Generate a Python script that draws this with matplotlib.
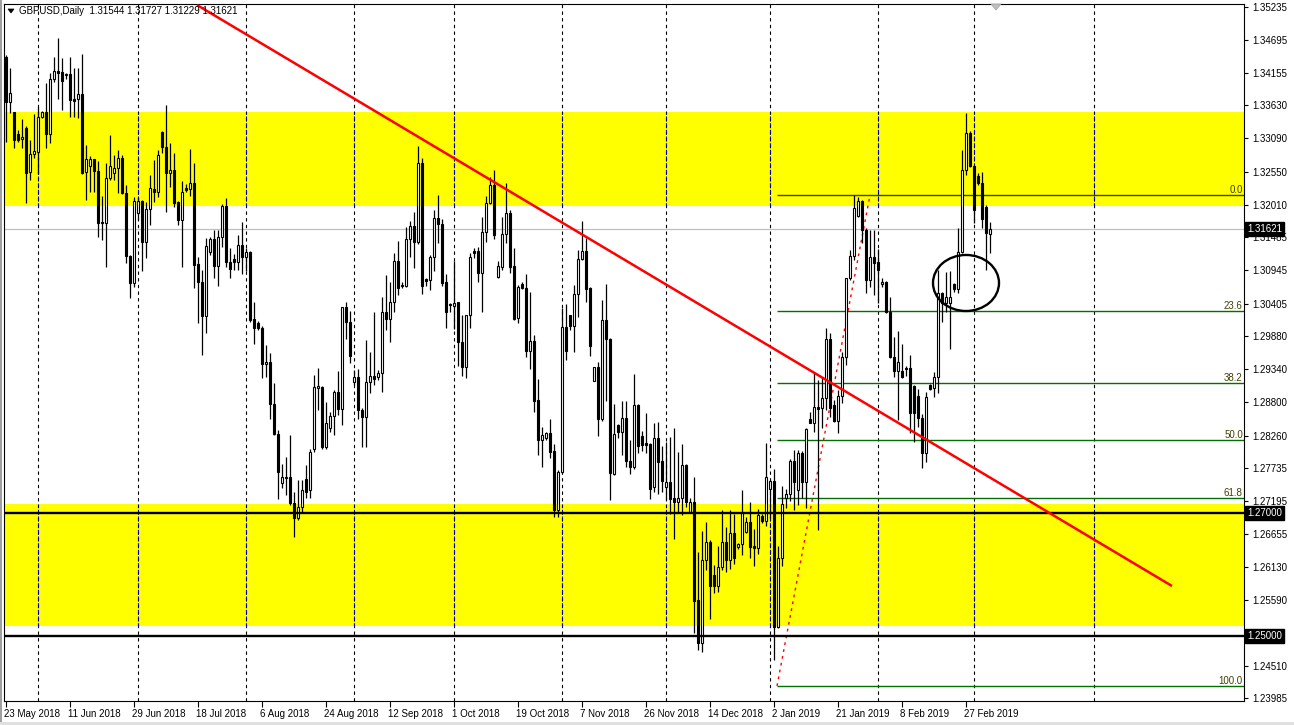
import datetime as dt
import numpy as np
import matplotlib
matplotlib.use("Agg")
import matplotlib.pyplot as plt
from matplotlib.patches import Ellipse, Polygon, Rectangle
import matplotlib.transforms as mtransforms

# ---------------- data ----------------
header_text = "GBPUSD,Daily  1.31544 1.31727 1.31229 1.31621"
first_date = dt.date(2018, 5, 23)

opens = [1.3442, 1.3368, 1.3352, 1.3316, 1.3308, 1.3326, 1.3254, 1.3284, 1.3287, 1.3344,
         1.3352, 1.3316, 1.3406, 1.3419, 1.3417, 1.3412, 1.3414, 1.3373, 1.3373, 1.3381,
         1.3254, 1.3264, 1.3275, 1.3256, 1.3173, 1.3171, 1.3245, 1.3253, 1.3261, 1.3277,
         1.3220, 1.3118, 1.3074, 1.3188, 1.3207, 1.3141, 1.3194, 1.3227, 1.3222, 1.3319,
         1.3295, 1.3253, 1.3258, 1.3206, 1.3176, 1.3228, 1.3227, 1.3236, 1.3105, 1.3076,
         1.3020, 1.3124, 1.3145, 1.3101, 1.3149, 1.3199, 1.3108, 1.3113, 1.3108, 1.3136,
         1.3116, 1.3124, 1.3015, 1.3009, 1.3001, 1.2942, 1.2945, 1.2877, 1.2828, 1.2749,
         1.2757, 1.2758, 1.2716, 1.2692, 1.2710, 1.2756, 1.2737, 1.2804, 1.2903, 1.2905,
         1.2807, 1.2838, 1.2858, 1.2897, 1.2869, 1.3035, 1.3011, 1.2913, 1.2921, 1.2867,
         1.2856, 1.2913, 1.2923, 1.2921, 1.2927, 1.3027, 1.3015, 1.3043, 1.3110, 1.3069,
         1.3069, 1.3145, 1.3167, 1.3141, 1.3269, 1.3080, 1.3079, 1.3116, 1.3180, 1.3170,
         1.3075, 1.3040, 1.3036, 1.3043, 1.2978, 1.2937, 1.3022, 1.3126, 1.3126, 1.3090,
         1.3157, 1.3204, 1.3233, 1.3084, 1.3100, 1.3154, 1.3188, 1.3101, 1.3017, 1.3072,
         1.3066, 1.2963, 1.2980, 1.2884, 1.2819, 1.2822, 1.2830, 1.2801, 1.2705, 1.2767,
         1.3002, 1.3022, 1.3004, 1.3056, 1.3113, 1.3126, 1.3066, 1.2915, 1.2937, 1.2853,
         1.3014, 1.2983, 1.2763, 1.2843, 1.2832, 1.2854, 1.2784, 1.2775, 1.2876, 1.2825,
         1.2814, 1.2812, 1.2742, 1.2822, 1.2784, 1.2742, 1.2750, 1.2724, 1.2718, 1.2724,
         1.2778, 1.2702, 1.2718, 1.2558, 1.2488, 1.2623, 1.2653, 1.2599, 1.2581, 1.2612,
         1.2653, 1.2623, 1.2667, 1.2645, 1.2649, 1.2669, 1.2685, 1.2646, 1.2643, 1.2695,
         1.2687, 1.2739, 1.2752, 1.2515, 1.2627, 1.2724, 1.2731, 1.2784, 1.2737, 1.2798,
         1.2750, 1.2853, 1.2846, 1.2872, 1.2871, 1.2887, 1.2983, 1.2876, 1.2849, 1.2890,
         1.2954, 1.3082, 1.3118, 1.3183, 1.3207, 1.3160, 1.3079, 1.3116, 1.3108, 1.3072,
         1.3076, 1.3027, 1.2954, 1.2931, 1.2931, 1.2936, 1.2936, 1.2906, 1.2890, 1.2854,
         1.2797, 1.2908, 1.2903, 1.2921, 1.3058, 1.3041, 1.3041, 1.3072, 1.3064, 1.3124,
         1.3258, 1.3318, 1.3264, 1.3248, 1.3236, 1.3197, 1.31544]

highs = [1.3445, 1.3423, 1.3352, 1.3323, 1.3340, 1.3329, 1.3306, 1.3349, 1.3360, 1.3354,
         1.3399, 1.3415, 1.3441, 1.3472, 1.3440, 1.3415, 1.3441, 1.3423, 1.3423, 1.3446,
         1.3298, 1.3280, 1.3276, 1.3272, 1.3215, 1.3269, 1.3314, 1.3282, 1.3290, 1.3282,
         1.3233, 1.3119, 1.3214, 1.3214, 1.3209, 1.3206, 1.3249, 1.3274, 1.3290, 1.3321,
         1.3363, 1.3301, 1.3285, 1.3207, 1.3240, 1.3235, 1.3292, 1.3269, 1.3116, 1.3095,
         1.3147, 1.3149, 1.3160, 1.3160, 1.3202, 1.3212, 1.3131, 1.3121, 1.3152, 1.3173,
         1.3131, 1.3126, 1.3043, 1.3012, 1.3004, 1.2973, 1.2960, 1.2911, 1.2835, 1.2780,
         1.2791, 1.2827, 1.2734, 1.2754, 1.2754, 1.2778, 1.2804, 1.2924, 1.2936, 1.2906,
         1.2880, 1.2864, 1.2900, 1.2931, 1.3035, 1.3043, 1.3028, 1.2932, 1.2934, 1.2871,
         1.2981, 1.2962, 1.3027, 1.2932, 1.3051, 1.3087, 1.3076, 1.3123, 1.3142, 1.3075,
         1.3165, 1.3175, 1.3189, 1.3297, 1.3277, 1.3082, 1.3119, 1.3193, 1.3217, 1.3178,
         1.3088, 1.3041, 1.3110, 1.3043, 1.3022, 1.3022, 1.3123, 1.3131, 1.3132, 1.3181,
         1.3215, 1.3246, 1.3258, 1.3110, 1.3181, 1.3236, 1.3193, 1.3131, 1.3071, 1.3075,
         1.3088, 1.3059, 1.2989, 1.2918, 1.2840, 1.2832, 1.2853, 1.2812, 1.2770, 1.3033,
         1.3040, 1.3022, 1.3071, 1.3128, 1.3175, 1.3147, 1.3067, 1.2938, 1.2946, 1.3046,
         1.3072, 1.2984, 1.2877, 1.2845, 1.2882, 1.2882, 1.2819, 1.2926, 1.2877, 1.2833,
         1.2863, 1.2814, 1.2846, 1.2848, 1.2809, 1.2815, 1.2823, 1.2838, 1.2799, 1.2812,
         1.2779, 1.2724, 1.2759, 1.2636, 1.2671, 1.2685, 1.2656, 1.2615, 1.2646, 1.2705,
         1.2677, 1.2705, 1.2698, 1.2651, 1.2737, 1.2693, 1.2718, 1.2674, 1.2707, 1.2698,
         1.2814, 1.2754, 1.2772, 1.2646, 1.2744, 1.2739, 1.2788, 1.2802, 1.2802, 1.2801,
         1.2838, 1.2864, 1.2927, 1.2916, 1.2921, 1.3001, 1.2993, 1.2884, 1.2900, 1.2962,
         1.3082, 1.3128, 1.3217, 1.3214, 1.3209, 1.3163, 1.3160, 1.3160, 1.3129, 1.3082,
         1.3077, 1.3051, 1.2986, 1.2996, 1.2975, 1.2939, 1.2957, 1.2908, 1.2901, 1.2861,
         1.2897, 1.2910, 1.2929, 1.3095, 1.3059, 1.3092, 1.3093, 1.3074, 1.3163, 1.3290,
         1.3350, 1.3321, 1.3265, 1.3253, 1.3254, 1.3201, 1.31727]

lows = [1.3304, 1.3350, 1.3293, 1.3303, 1.3293, 1.3204, 1.3241, 1.3277, 1.3251, 1.3342,
        1.3293, 1.3301, 1.3401, 1.3373, 1.3355, 1.3406, 1.3344, 1.3344, 1.3342, 1.3251,
        1.3209, 1.3222, 1.3222, 1.3149, 1.3144, 1.3100, 1.3241, 1.3241, 1.3220, 1.3219,
        1.3106, 1.3049, 1.3067, 1.3176, 1.3093, 1.3114, 1.3168, 1.3206, 1.3214, 1.3285,
        1.3189, 1.3230, 1.3197, 1.3168, 1.3100, 1.3222, 1.3215, 1.3066, 1.3009, 1.2957,
        1.2993, 1.3119, 1.3082, 1.3069, 1.3132, 1.3100, 1.3082, 1.3095, 1.3095, 1.3089,
        1.3093, 1.3010, 1.2975, 1.2997, 1.2919, 1.2921, 1.2853, 1.2827, 1.2723, 1.2741,
        1.2729, 1.2713, 1.2661, 1.2689, 1.2702, 1.2724, 1.2724, 1.2799, 1.2867, 1.2804,
        1.2804, 1.2832, 1.2827, 1.2859, 1.2843, 1.2983, 1.2944, 1.2908, 1.2853, 1.2807,
        1.2807, 1.2895, 1.2908, 1.2916, 1.2897, 1.2997, 1.2978, 1.3027, 1.3054, 1.3066,
        1.3067, 1.3116, 1.3098, 1.3137, 1.3056, 1.3069, 1.3063, 1.3093, 1.3139, 1.3069,
        1.3001, 1.3027, 1.2999, 1.2939, 1.2923, 1.2919, 1.3001, 1.3114, 1.3075, 1.3027,
        1.3141, 1.3202, 1.3145, 1.3082, 1.3095, 1.3139, 1.3090, 1.3014, 1.3009, 1.3064,
        1.2954, 1.2934, 1.2864, 1.2794, 1.2775, 1.2819, 1.2789, 1.2693, 1.2693, 1.2765,
        1.2949, 1.2997, 1.2962, 1.3019, 1.3111, 1.3043, 1.2955, 1.2914, 1.2825, 1.2849,
        1.2882, 1.2721, 1.2762, 1.2822, 1.2794, 1.2775, 1.2763, 1.2771, 1.2798, 1.2801,
        1.2798, 1.2723, 1.2734, 1.2731, 1.2734, 1.2721, 1.2698, 1.2658, 1.2702, 1.2697,
        1.2710, 1.2701, 1.2505, 1.2477, 1.2474, 1.2607, 1.2527, 1.2570, 1.2571, 1.2607,
        1.2604, 1.2609, 1.2617, 1.2641, 1.2632, 1.2667, 1.2627, 1.2614, 1.2633, 1.2684,
        1.2679, 1.2692, 1.2461, 1.2513, 1.2614, 1.2708, 1.2720, 1.2705, 1.2713, 1.2724,
        1.2708, 1.2846, 1.2832, 1.2672, 1.2838, 1.2867, 1.2856, 1.2848, 1.2830, 1.2879,
        1.2941, 1.3079, 1.3111, 1.3181, 1.3139, 1.3058, 1.3067, 1.3054, 1.3041, 1.3067,
        1.3025, 1.2952, 1.2921, 1.2851, 1.2919, 1.2923, 1.2830, 1.2815, 1.2840, 1.2773,
        1.2783, 1.2900, 1.2889, 1.2895, 1.3010, 1.3027, 1.2967, 1.3059, 1.3058, 1.3123,
        1.3250, 1.3262, 1.3171, 1.3233, 1.3163, 1.3095, 1.31229]

closes = [1.3369, 1.3383, 1.3306, 1.3306, 1.3311, 1.3253, 1.3284, 1.3288, 1.3344, 1.3352,
          1.3316, 1.3406, 1.3419, 1.3415, 1.3402, 1.3414, 1.3371, 1.3370, 1.3381, 1.3253,
          1.3275, 1.3275, 1.3256, 1.3171, 1.3171, 1.3245, 1.3264, 1.3261, 1.3277, 1.3220,
          1.3118, 1.3074, 1.3207, 1.3207, 1.3141, 1.3194, 1.3228, 1.3222, 1.3282, 1.3295,
          1.3253, 1.3258, 1.3204, 1.3176, 1.3222, 1.3226, 1.3236, 1.3103, 1.3076, 1.3020,
          1.3134, 1.3145, 1.3101, 1.3149, 1.3199, 1.3108, 1.3097, 1.3108, 1.3136, 1.3116,
          1.3124, 1.3014, 1.3001, 1.3001, 1.2942, 1.2945, 1.2877, 1.2828, 1.2767, 1.2758,
          1.2759, 1.2716, 1.2692, 1.2710, 1.2737, 1.2734, 1.2799, 1.2905, 1.2906, 1.2807,
          1.2846, 1.2858, 1.2897, 1.2869, 1.3035, 1.3011, 1.2955, 1.2921, 1.2867, 1.2856,
          1.2913, 1.2923, 1.2918, 1.2927, 1.3027, 1.3015, 1.3043, 1.3110, 1.3066, 1.3071,
          1.3145, 1.3167, 1.3141, 1.3269, 1.3069, 1.3077, 1.3116, 1.3180, 1.3170, 1.3074,
          1.3027, 1.3038, 1.3041, 1.2978, 1.2937, 1.3022, 1.3116, 1.3123, 1.3090, 1.3157,
          1.3204, 1.3233, 1.3152, 1.3101, 1.3154, 1.3188, 1.3100, 1.3015, 1.3067, 1.3066,
          1.2963, 1.2980, 1.2882, 1.2819, 1.2827, 1.2830, 1.2799, 1.2705, 1.2767, 1.3002,
          1.2963, 1.3004, 1.3056, 1.3113, 1.3126, 1.3064, 1.2971, 1.2937, 1.2853, 1.3014,
          1.2983, 1.2765, 1.2828, 1.2832, 1.2854, 1.2784, 1.2775, 1.2876, 1.2809, 1.2810,
          1.2810, 1.2739, 1.2822, 1.2783, 1.2752, 1.2750, 1.2723, 1.2718, 1.2724, 1.2778,
          1.2718, 1.2718, 1.2557, 1.2488, 1.2623, 1.2653, 1.2581, 1.2581, 1.2612, 1.2653,
          1.2623, 1.2667, 1.2627, 1.2649, 1.2700, 1.2685, 1.2645, 1.2643, 1.2697, 1.2687,
          1.2758, 1.2752, 1.2515, 1.2627, 1.2715, 1.2731, 1.2784, 1.2750, 1.2798, 1.2750,
          1.2837, 1.2846, 1.2872, 1.2869, 1.2887, 1.2983, 1.2871, 1.2849, 1.2890, 1.2954,
          1.3082, 1.3118, 1.3196, 1.3207, 1.3160, 1.3079, 1.3116, 1.3107, 1.3095, 1.3076,
          1.3027, 1.2954, 1.2931, 1.2945, 1.2921, 1.2934, 1.2863, 1.2863, 1.2854, 1.2797,
          1.2889, 1.2901, 1.2921, 1.3058, 1.3041, 1.3051, 1.3051, 1.3064, 1.3124, 1.3258,
          1.3318, 1.3264, 1.3193, 1.3236, 1.3178, 1.3155, 1.31621]

price_ticks = ["1.35235", "1.34695", "1.34155", "1.33630", "1.33090", "1.32550", "1.32010",
               "1.31485", "1.30945", "1.30405", "1.29880", "1.29340", "1.28800", "1.28260",
               "1.27735", "1.27195", "1.26655", "1.26130", "1.25590", "1.24510", "1.23985"]

key_levels = [1.27000, 1.25000]
last_price = 1.31621
zones = [(1.31992, 1.33520), (1.25163, 1.27146)]

trend_x = [47.75, 291.5]
trend_y = [1.35260, 1.25813]

fib_anchor_x = [192.75, 216.0]
fib_anchor_y = [1.24187, 1.32171]
fib_levels = [0.0, 23.6, 38.2, 50.0, 61.8, 100.0]

ellipse_center = (240.0, 1.30740)
ellipse_size = (16.5, 0.00911)

# ---------------- derived ----------------
O = np.array(opens); Hh = np.array(highs); Ll = np.array(lows); C = np.array(closes)
n = len(O)
x = np.arange(n)

dates = []
d = first_date
while len(dates) < n:
    if d.weekday() != 5:  # broker feed: Mon-Fri + Sunday bars
        dates.append(d)
    d += dt.timedelta(days=1)

label_idx = list(range(0, n, 16))
label_txt = [f"{dates[i].day} {dates[i].strftime('%b %Y')}" for i in label_idx]

month_idx = [i for i in range(1, n) if dates[i].month != dates[i - 1].month]
# future month separator (calendar days in the empty right area)
future_month = dt.date(2019, 4, 1)
month_idx.append(n - 1 + (future_month - dates[-1]).days)

# ---------------- figure ----------------
W, H = 1294, 725
fig = plt.figure(figsize=(W / 100, H / 100), dpi=100)
fig.patch.set_facecolor("white")
Lp, Rp, Tp, Bp = 4, 1244, 4, 701
ax = fig.add_axes([Lp / W, 1 - Bp / H, (Rp - Lp) / W, (Bp - Tp) / H])
ax.set_facecolor("white")
ax.set_xlim(-0.5, 309.5)
ax.set_ylim(1.239431, 1.352764)

FONT = "Liberation Sans"
FS = 7

# zones
for lo, hi in zones:
    ax.axhspan(lo, hi, color="#FFFF00", lw=0, zorder=0)

# month grid (black dashes, blue where they cross yellow)
for m in month_idx:
    ax.axvline(m, color="black", lw=0.8, ls=(0, (3, 3)), zorder=1)
    for lo, hi in zones:
        ax.plot([m, m], [lo, hi], color="#0000FF", lw=0.8, ls=(0, (3, 3)), zorder=1.1)

# current price line
ax.axhline(last_price, color="#C0C0C0", lw=0.9, zorder=1.2)

# fibonacci
fhi, flo = fib_anchor_y[1], fib_anchor_y[0]
for lv in fib_levels:
    p = fhi - (fhi - flo) * lv / 100.0
    col = "#404000" if lv == 0 else "#007000"
    ax.plot([fib_anchor_x[0], 309.5], [p, p], color=col, lw=1.0, zorder=1.5,
            solid_capstyle="butt")
    ax.text(309.2, p, f"{lv:.1f}", fontsize=FS, family=FONT, color="#404000",
            ha="right", va="bottom", zorder=6)
ax.plot(fib_anchor_x, fib_anchor_y, color="red", lw=1.0, ls=(0, (2, 3)), zorder=1.6)

# candles
up = C >= O
bb = np.minimum(O, C)
bh = np.abs(C - O)
ax.vlines(x, Ll, Hh, color="black", lw=0.9, zorder=2)
bw = 0.58
ax.bar(x[up], bh[up], bottom=bb[up], width=bw, facecolor="white", edgecolor="black",
       lw=0.8, zorder=3)
ax.bar(x[~up], bh[~up], bottom=bb[~up], width=bw, facecolor="black", edgecolor="black",
       lw=0.8, zorder=3)

# key horizontal levels
for lvl in key_levels:
    ax.axhline(lvl, color="black", lw=1.7, zorder=4)

# trend line
ax.plot(trend_x, trend_y, color="red", lw=1.8, zorder=5, solid_capstyle="butt")

# ellipse
ax.add_patch(Ellipse(ellipse_center, ellipse_size[0], ellipse_size[1], fill=False,
                     ec="black", lw=1.7, zorder=5))

# axes styling
for s in ax.spines.values():
    s.set_color("black")
    s.set_linewidth(0.8)

ax.yaxis.tick_right()
ax.set_yticks([float(t) for t in price_ticks])
ax.set_yticklabels(price_ticks)
ax.tick_params(axis="y", direction="out", length=3, width=0.8, pad=3, labelsize=FS,
               colors="black")
for lab in ax.get_yticklabels():
    lab.set_family(FONT)

ax.set_xticks(label_idx)
ax.set_xticklabels(label_txt, ha="left")
ax.tick_params(axis="x", direction="out", length=4, width=0.8, pad=2, labelsize=FS)
for lab in ax.get_xticklabels():
    lab.set_family(FONT)
    lab.set_transform(lab.get_transform() + mtransforms.ScaledTranslation(-1.5 / 100, 0, fig.dpi_scale_trans))

# black price boxes on the right axis
btrans = mtransforms.blended_transform_factory(ax.transAxes, ax.transData)
for val in key_levels + [last_price]:
    ax.text(1.0 + 3 / (Rp - Lp), val, f"{val:.5f}", transform=btrans, fontsize=FS,
            family=FONT, color="white", ha="left", va="center", zorder=10,
            bbox=dict(boxstyle="square,pad=0.18", fc="black", ec="black"),
            clip_on=False)

# header
fig.text(19 / W, 1 - 11 / H, header_text, fontsize=FS, family=FONT, color="black",
         va="center", ha="left")
fig.patches.append(Polygon([[8 / W, 1 - 9 / H], [14 / W, 1 - 9 / H], [11 / W, 1 - 13 / H]],
                           closed=True, transform=fig.transFigure, fc="black", ec="black",
                           lw=0.5))
# chart shift marker
fig.patches.append(Polygon([[991 / W, 1 - 4 / H], [1001 / W, 1 - 4 / H], [996 / W, 1 - 10 / H]],
                           closed=True, transform=fig.transFigure, fc="#C0C0C0", ec="#A0A0A0",
                           lw=0.5))
# window edge strips
fig.patches.append(Rectangle((0, 0), 2 / W, 1, transform=fig.transFigure, fc="#A0A0A0",
                             ec="none"))
fig.patches.append(Rectangle((0, 0), 1, 3 / H, transform=fig.transFigure, fc="#E0E0E0",
                             ec="none"))

fig.savefig("out.png", dpi=100, facecolor="white")
